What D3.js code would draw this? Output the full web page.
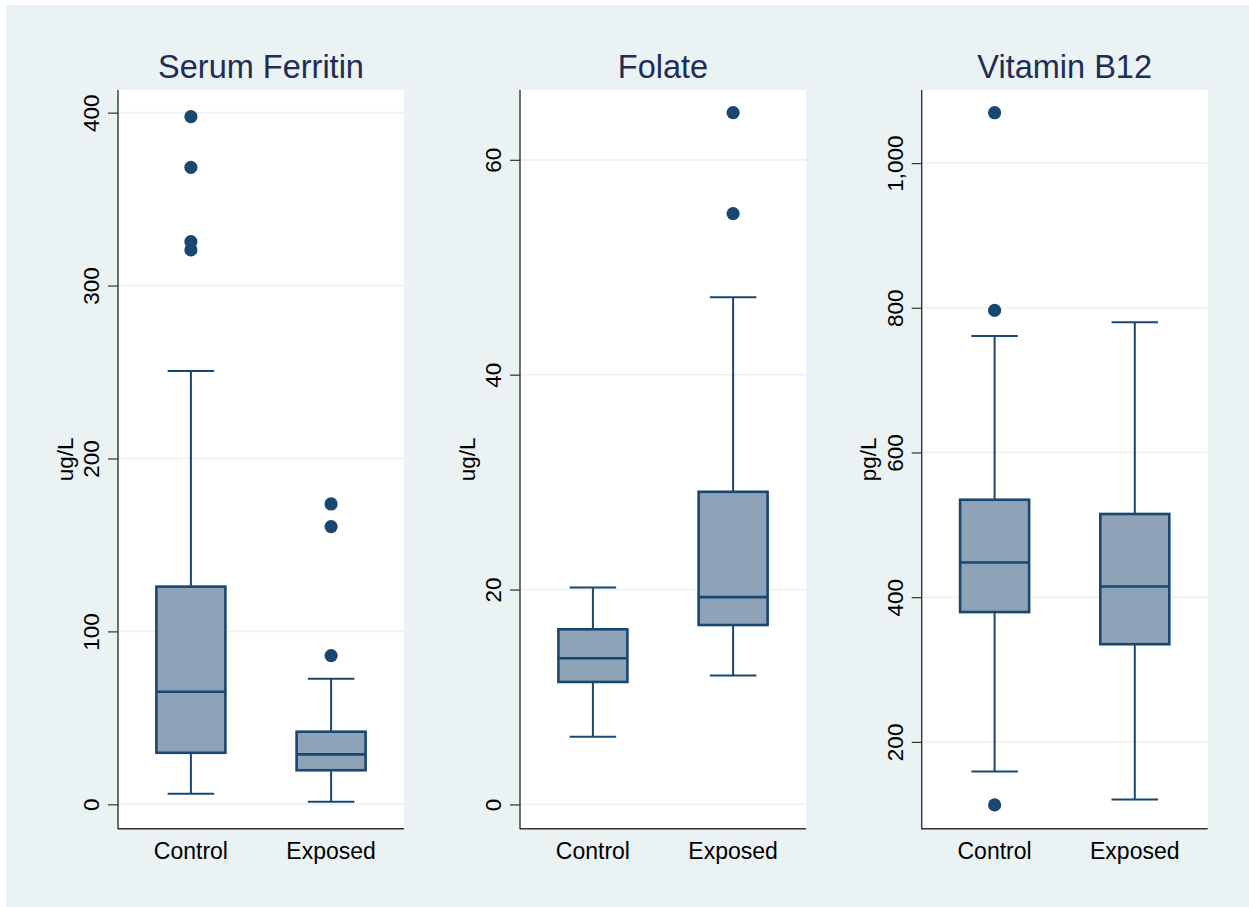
<!DOCTYPE html>
<html>
<head>
<meta charset="utf-8">
<script src="https://cdn.jsdelivr.net/npm/d3@7"></script>
<style>
  html, body { margin: 0; padding: 0; background: #ffffff; }
  svg { display: block; font-family: "Liberation Sans", Arial, sans-serif; }
</style>
</head>
<body>
<svg id="chart" width="1249" height="907"></svg>
<script>
// Panel titles, units and groups
const panelTitles = ["Serum Ferritin", "Folate", "Vitamin B12"];
const panelUnits = ["ug/L", "ug/L", "pg/L"];
const groups = ["Control", "Exposed"];

// Box statistics per group: [lower whisker, Q1, median, Q3, upper whisker]
const ferritinStats = [[6.1, 29.8, 65.1, 125.9, 250.6], [1.5, 19.7, 28.9, 42.0, 72.6]];
const folateStats = [[6.3, 11.4, 13.6, 16.3, 20.2], [12.0, 16.7, 19.3, 29.1, 47.2]];
const b12Stats = [[159, 379.4, 448, 534.7, 761], [120.2, 335, 414.8, 515, 780]];

// Outside values per group
const ferritinOutliers = [[397.7, 368.4, 325.4, 320.6], [173.7, 160.6, 86.0]];
const folateOutliers = [[], [64.4, 55.0]];
const b12Outliers = [[112.9, 796.5, 1069.6], []];

// Y-axis ticks and ranges
const ferritinTicks = [0, 100, 200, 300, 400];
const folateTicks = [0, 20, 40, 60];
const b12Ticks = [200, 400, 600, 800, 1000];
const ferritinRange = [-14.1, 413.1];
const folateRange = [-2.26, 66.5];
const b12Range = [80, 1101];

const panels = [
  { title: panelTitles[0], unit: panelUnits[0], stats: ferritinStats, out: ferritinOutliers, ticks: ferritinTicks, range: ferritinRange },
  { title: panelTitles[1], unit: panelUnits[1], stats: folateStats, out: folateOutliers, ticks: folateTicks, range: folateRange },
  { title: panelTitles[2], unit: panelUnits[2], stats: b12Stats, out: b12Outliers, ticks: b12Ticks, range: b12Range }
];

const svg = d3.select("#chart");
const W = 1249, H = 907;

const bgColor = "#eaf2f3";
const navy = "#1a476f";
const boxFill = "#8ea3b7";
const titleColor = "#1e2d55";

// Outer graph region
svg.append("rect").attr("x", 6).attr("y", 5).attr("width", W - 6).attr("height", H - 5).attr("fill", bgColor);

const plotLefts = [118, 520, 921.7];
const plotW = 286;
const plotTop = 90, plotBottom = 828.7;
const fmt = d3.format(",");

panels.forEach((p, i) => {
  const g = svg.append("g").attr("transform", `translate(${plotLefts[i]},0)`);
  const y = d3.scaleLinear().domain(p.range).range([plotBottom, plotTop]);
  const x = d3.scalePoint().domain(groups).range([0, plotW]).padding(0.52);

  // plot area
  g.append("rect").attr("x", 0).attr("y", plotTop).attr("width", plotW)
    .attr("height", plotBottom - plotTop).attr("fill", "#ffffff");

  // gridlines
  g.selectAll("line.grid").data(p.ticks).join("line")
    .attr("class", "grid")
    .attr("x1", 0).attr("x2", plotW)
    .attr("y1", d => y(d)).attr("y2", d => y(d))
    .attr("stroke", bgColor).attr("stroke-width", 1.6);

  // y axis
  const yAxis = d3.axisLeft(y).tickValues(p.ticks).tickFormat(fmt).tickSize(10).tickPadding(0);
  const ya = g.append("g").call(yAxis);
  ya.select(".domain").remove();
  ya.selectAll(".tick line").attr("stroke", "#333").attr("stroke-width", 1.2);
  ya.selectAll(".tick text")
    .attr("x", null).attr("dy", null)
    .attr("transform", "translate(-19,0) rotate(-90)")
    .attr("text-anchor", "middle")
    .attr("fill", "#000")
    .style("font-size", "22.5px")
    .style("font-family", "'Liberation Sans', Arial, sans-serif");

  // axis lines
  g.append("line").attr("x1", 0).attr("x2", 0).attr("y1", plotTop).attr("y2", plotBottom + 0.6)
    .attr("stroke", "#333").attr("stroke-width", 1.4);
  g.append("line").attr("x1", 0).attr("x2", plotW).attr("y1", plotBottom).attr("y2", plotBottom)
    .attr("stroke", "#333").attr("stroke-width", 1.4);

  // x labels
  g.selectAll("text.xl").data(groups).join("text")
    .attr("class", "xl")
    .attr("x", d => x(d)).attr("y", 858.5)
    .attr("text-anchor", "middle").attr("fill", "#000")
    .style("font-size", "23px")
    .text(d => d);

  // y-axis title
  g.append("text")
    .attr("transform", `translate(-45.5,${(plotTop + plotBottom) / 2}) rotate(-90)`)
    .attr("text-anchor", "middle").attr("fill", "#000")
    .style("font-size", "22.5px")
    .text(p.unit);

  // panel title
  g.append("text")
    .attr("x", plotW / 2).attr("y", 77.5)
    .attr("text-anchor", "middle").attr("fill", titleColor)
    .style("font-size", "32.5px")
    .text(p.title);

  const boxW = 69, capW = 46.5;

  groups.forEach((grp, j) => {
    const s = p.stats[j];
    const cx = x(grp);
    const bg = g.append("g");
    // whiskers
    bg.append("line").attr("x1", cx).attr("x2", cx).attr("y1", y(s[3])).attr("y2", y(s[4]))
      .attr("stroke", navy).attr("stroke-width", 2);
    bg.append("line").attr("x1", cx).attr("x2", cx).attr("y1", y(s[1])).attr("y2", y(s[0]))
      .attr("stroke", navy).attr("stroke-width", 2);
    [s[0], s[4]].forEach(v => {
      bg.append("line").attr("x1", cx - capW / 2).attr("x2", cx + capW / 2)
        .attr("y1", y(v)).attr("y2", y(v))
        .attr("stroke", navy).attr("stroke-width", 2);
    });
    // box
    bg.append("rect").attr("x", cx - boxW / 2).attr("width", boxW)
      .attr("y", y(s[3])).attr("height", y(s[1]) - y(s[3]))
      .attr("fill", boxFill).attr("stroke", navy).attr("stroke-width", 2.6);
    // median
    bg.append("line").attr("x1", cx - boxW / 2).attr("x2", cx + boxW / 2)
      .attr("y1", y(s[2])).attr("y2", y(s[2]))
      .attr("stroke", navy).attr("stroke-width", 2.6);
    // outside values
    bg.selectAll("circle").data(p.out[j]).join("circle")
      .attr("cx", cx).attr("cy", d => y(d)).attr("r", 6.6)
      .attr("fill", navy);
  });
});
</script>
</body>
</html>
